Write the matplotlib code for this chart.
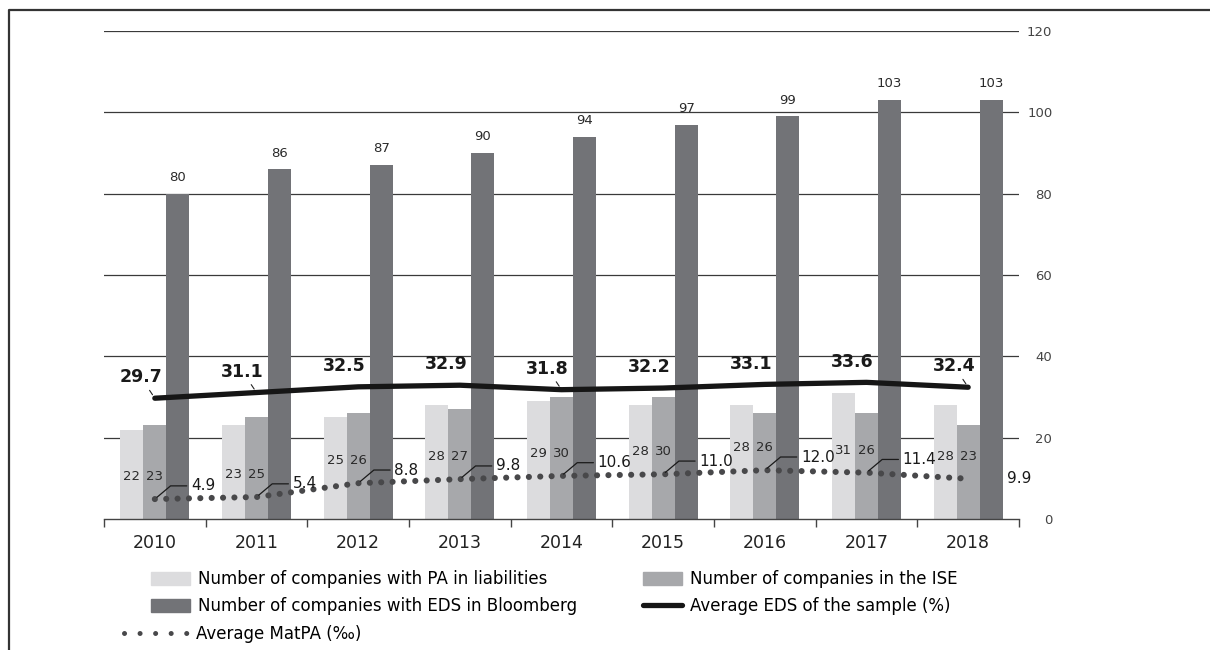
import matplotlib
matplotlib.use("Agg")
import matplotlib.pyplot as plt
from matplotlib.patches import Patch
from matplotlib.lines import Line2D
import numpy as np

# =========================================================
# Données
# =========================================================

annees = ["2010", "2011", "2012", "2013", "2014", "2015", "2016", "2017", "2018"]
nb_pa = [22, 23, 25, 28, 29, 28, 28, 31, 28]
nb_ise = [23, 25, 26, 27, 30, 30, 26, 26, 23]
nb_eds = [80, 86, 87, 90, 94, 97, 99, 103, 103]
moy_eds = [29.7, 31.1, 32.5, 32.9, 31.8, 32.2, 33.1, 33.6, 32.4]
moy_matpa = [4.9, 5.4, 8.8, 9.8, 10.6, 11.0, 12.0, 11.4, 9.9]
graduations = [0, 20, 40, 60, 80, 100, 120]

# =========================================================
# Style
# =========================================================

C_CLAIR = "#dcdcde"
C_MOYEN = "#a7a8ab"
C_FONCE = "#727377"
C_TEXTE = "#2a2a2a"
C_POINTS = "#48484a"

plt.rcParams["font.family"] = ["DejaVu Sans"]

fig = plt.figure(figsize=(12.1, 6.5), dpi=100)
ax = fig.add_axes([104 / 1210, 1 - 519 / 650, (1019 - 104) / 1210, (519 - 31) / 650])

x = np.arange(len(annees))
w = 0.226

# grille horizontale
for g in graduations[1:]:
    ax.axhline(g, color="#3a3a3a", lw=0.9, zorder=1)

ax.bar(x - w, nb_pa, w, color=C_CLAIR, zorder=2)
ax.bar(x, nb_ise, w, color=C_MOYEN, zorder=2)
ax.bar(x + w, nb_eds, w, color=C_FONCE, zorder=2)

# courbe EDS moyenne
ax.plot(x, moy_eds, color="#161616", lw=3.8, solid_capstyle="round",
        solid_joinstyle="round", zorder=4)

# courbe MatPA en pointillés (tirets quasi nuls + bouts ronds = points)
ax.plot(x, moy_matpa, color=C_POINTS, lw=4.4, linestyle=(0, (0.01, 1.85)),
        dash_capstyle="round", zorder=4)

# --- étiquettes des barres ---
for i in range(len(annees)):
    ax.text(x[i] - w, moy_matpa[i] + 5.5, str(nb_pa[i]), ha="center", va="center",
            fontsize=9.5, color=C_TEXTE, zorder=5)
    ax.text(x[i], moy_matpa[i] + 5.5, str(nb_ise[i]), ha="center", va="center",
            fontsize=9.5, color=C_TEXTE, zorder=5)
    ax.annotate(str(nb_eds[i]), (x[i] + w, nb_eds[i]), xytext=(0, 7),
                textcoords="offset points", ha="center", va="bottom",
                fontsize=9.5, color=C_TEXTE)

# --- étiquettes EDS moyenne ---
avec_trait = [0, 1, 4, 8]
for i, v in enumerate(moy_eds):
    props = None
    if i in avec_trait:
        props = dict(arrowstyle="-", color="#222222", lw=0.8, shrinkA=1, shrinkB=3)
    ax.annotate(f"{v:.1f}", (x[i], v), xytext=(-10, 15), textcoords="offset points",
                ha="center", va="center", fontsize=12.5, fontweight="bold",
                color="#1a1a1a", arrowprops=props, zorder=6)

# --- étiquettes MatPA ---
for i, v in enumerate(moy_matpa):
    if i == len(moy_matpa) - 1:
        ax.annotate(f"{v:.1f}", (x[i], v), xytext=(28, 0), textcoords="offset points",
                    ha="left", va="center", fontsize=11, color="#1a1a1a")
    else:
        ax.annotate(f"{v:.1f}", (x[i], v), xytext=(26, 9.5), textcoords="offset points",
                    ha="left", va="center", fontsize=11, color="#1a1a1a", zorder=6,
                    arrowprops=dict(arrowstyle="-", color="#1a1a1a", lw=0.9,
                                    relpos=(0, 0.5), shrinkA=1, shrinkB=2,
                                    connectionstyle="angle,angleA=0,angleB=40,rad=0"))

# --- axes ---
ax.set_xlim(-0.5, len(annees) - 0.5)
ax.set_ylim(0, 120)
ax.set_xticks(x)
ax.set_xticklabels(annees, fontsize=12.5, color="#222222")
ax.set_xticks(np.arange(-0.5, len(annees)), minor=True)
ax.tick_params(axis="x", which="major", length=0, pad=11)
ax.tick_params(axis="x", which="minor", length=5.5, width=1, color="#444444")

ax.yaxis.tick_right()
ax.set_yticks(graduations)
ax.tick_params(axis="y", length=0, pad=24, labelsize=9.5, labelcolor="#444444")
for lab in ax.get_yticklabels():
    lab.set_horizontalalignment("right")

for s in ["top", "left", "right"]:
    ax.spines[s].set_visible(False)
ax.spines["bottom"].set_color("#444444")
ax.spines["bottom"].set_linewidth(1)

# --- légende ---
leg_kw = dict(frameon=False, fontsize=12, borderpad=0, borderaxespad=0,
              handletextpad=0.45, labelspacing=0.55, handleheight=0.8)

h1 = [Patch(color=C_CLAIR), Patch(color=C_FONCE)]
l1 = ["Number of companies with PA in liabilities",
      "Number of companies with EDS in Bloomberg"]
leg1 = fig.legend(h1, l1, loc="upper left", bbox_to_anchor=(151 / 1210, 1 - 570 / 650),
                  handlelength=2.35, **leg_kw)

h2 = [Patch(color=C_MOYEN),
      Line2D([], [], color="#161616", lw=3.8, solid_capstyle="round")]
l2 = ["Number of companies in the ISE", "Average EDS of the sample (%)"]
leg2 = fig.legend(h2, l2, loc="upper left", bbox_to_anchor=(643 / 1210, 1 - 570 / 650),
                  handlelength=2.35, **leg_kw)

h3 = [Line2D([], [], color=C_POINTS, lw=3.6, linestyle=(0, (0.01, 3.1)),
             dash_capstyle="round")]
leg3 = fig.legend(h3, ["Average MatPA (\u2030)"], loc="upper left",
                  bbox_to_anchor=(124 / 1210, 1 - 625 / 650),
                  handlelength=3.9, **leg_kw)

# --- cadre de la figure ---
fig.add_artist(Line2D([9 / 1210, 9 / 1210, 1.0], [0.0, 1 - 10 / 650, 1 - 10 / 650],
                      transform=fig.transFigure, color="#333333", lw=1.6))

fig.savefig("out.png", dpi=100)
